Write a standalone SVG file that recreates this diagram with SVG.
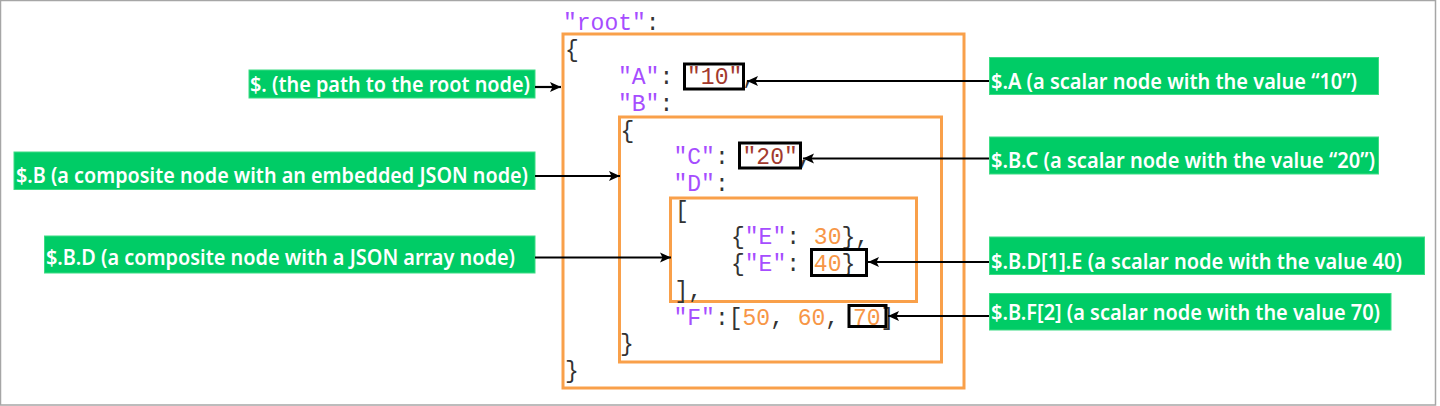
<svg xmlns="http://www.w3.org/2000/svg" width="1440" height="406" viewBox="0 0 1440 406">
<style>
.frame{fill:#fff;stroke:#A6A6A6;stroke-width:1.5}
.ob{fill:none;stroke:#F9A04A;stroke-width:3}
.vb{fill:none;stroke:#000;stroke-width:3}
.code{font-family:"Liberation Mono","Courier New",monospace;font-size:23px;fill:#333}
.k{fill:#A64DFF}
.s{fill:#A33A2E}
.n{fill:#F79646}
.lab rect{fill:#00CC66;stroke:#3DDC84;stroke-width:1}
.lab text{font-family:"Noto Sans","Open Sans",sans-serif;font-weight:600;font-size:21.5px;fill:#fff}
.conn line{stroke:#000;stroke-width:2.2}
</style>
<defs>
<marker id="ah" markerUnits="userSpaceOnUse" markerWidth="12" markerHeight="12" viewBox="0 0 12 12" refX="11" refY="6" orient="auto">
<path d="M0,1 L11,6 L0,11 L2.5,6 Z" fill="#000"/>
</marker>
</defs>
<rect class="frame" x="0.5" y="0.5" width="1435" height="404.5"/>

<g id="json">
<rect class="ob" x="563" y="34" width="401" height="354"/>
<rect class="ob" x="619.5" y="117" width="322" height="245"/>
<rect class="ob" x="670.5" y="198" width="246" height="103.5"/>
<text class="code" x="563" y="30"><tspan class="k">"root"</tspan>:</text>
<text class="code" x="565" y="57">{</text>
<text class="code" x="618" y="83.5"><tspan class="k">"A"</tspan>: <tspan class="s">"10"</tspan>,</text>
<text class="code" x="618" y="110.5"><tspan class="k">"B"</tspan>:</text>
<text class="code" x="620.5" y="137.5">{</text>
<text class="code" x="673.5" y="164"><tspan class="k">"C"</tspan>: <tspan class="s">"20"</tspan>,</text>
<text class="code" x="673.5" y="191"><tspan class="k">"D"</tspan>:</text>
<text class="code" x="675" y="217.5">[</text>
<text class="code" x="731" y="244">{<tspan class="k">"E"</tspan>: <tspan class="n">30</tspan>},</text>
<text class="code" x="731" y="271">{<tspan class="k">"E"</tspan>: <tspan class="n">40</tspan>}</text>
<text class="code" x="674.5" y="297.5">],</text>
<text class="code" x="673.5" y="324.5"><tspan class="k">"F"</tspan>:[<tspan class="n">50</tspan>, <tspan class="n">60</tspan>, <tspan class="n">70</tspan>]</text>
<text class="code" x="620" y="351">}</text>
<text class="code" x="565" y="377.5">}</text>
<rect class="vb" x="684.5" y="64" width="59" height="25"/>
<rect class="vb" x="739.5" y="143" width="61" height="25"/>
<rect class="vb" x="811.5" y="249.5" width="55" height="26"/>
<rect class="vb" x="849" y="305.5" width="37" height="21"/>
</g>

<g id="label-root" class="lab">
<rect x="249" y="70" width="286" height="28"/>
<text x="250" y="92" textLength="280" lengthAdjust="spacingAndGlyphs">$. (the path to the root node)</text>
</g>
<g id="label-B" class="lab">
<rect x="14" y="152" width="521" height="37.5"/>
<text x="16" y="183" textLength="512" lengthAdjust="spacingAndGlyphs">$.B (a composite node with an embedded JSON node)</text>
</g>
<g id="label-BD" class="lab">
<rect x="44.5" y="236" width="490.5" height="37"/>
<text x="46" y="264.5" textLength="469" lengthAdjust="spacingAndGlyphs">$.B.D (a composite node with a JSON array node)</text>
</g>
<g id="label-A" class="lab">
<rect x="989.5" y="57.5" width="389" height="37"/>
<text x="991" y="88.5" textLength="366" lengthAdjust="spacingAndGlyphs">$.A (a scalar node with the value “10”)</text>
</g>
<g id="label-BC" class="lab">
<rect x="989.5" y="137" width="389" height="37"/>
<text x="991" y="167.5" textLength="384" lengthAdjust="spacingAndGlyphs">$.B.C (a scalar node with the value “20”)</text>
</g>
<g id="label-BDE" class="lab">
<rect x="989.5" y="237" width="435" height="37.5"/>
<text x="991" y="268.5" textLength="411" lengthAdjust="spacingAndGlyphs">$.B.D[1].E (a scalar node with the value 40)</text>
</g>
<g id="label-BF" class="lab">
<rect x="989.5" y="293.5" width="401.5" height="36.5"/>
<text x="991" y="320" textLength="389" lengthAdjust="spacingAndGlyphs">$.B.F[2] (a scalar node with the value 70)</text>
</g>

<g id="connectors" class="conn">
<line x1="535" y1="87" x2="561" y2="87" marker-end="url(#ah)"/>
<line x1="535" y1="176" x2="620" y2="176" marker-end="url(#ah)"/>
<line x1="535" y1="257.5" x2="671" y2="257.5" marker-end="url(#ah)"/>
<line x1="989" y1="81" x2="747" y2="81" marker-end="url(#ah)"/>
<line x1="989" y1="158.5" x2="803" y2="158.5" marker-end="url(#ah)"/>
<line x1="989" y1="262" x2="868" y2="262" marker-end="url(#ah)"/>
<line x1="989" y1="316" x2="888" y2="316" marker-end="url(#ah)"/>
</g>
</svg>
